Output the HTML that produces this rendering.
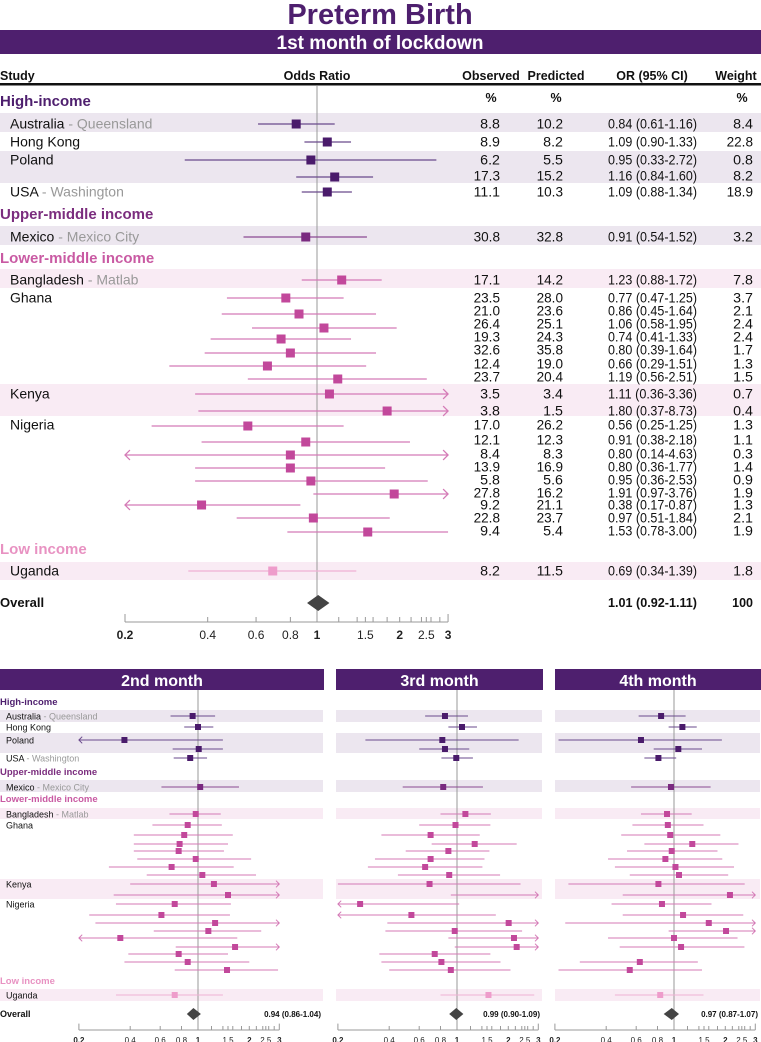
<!DOCTYPE html>
<html><head><meta charset="utf-8"><style>
body{margin:0;background:#fff}
svg{display:block;font-family:"Liberation Sans",Arial,sans-serif}
</style></head><body>
<svg id="chart" width="761" height="1042" viewBox="0 0 761 1042" xmlns="http://www.w3.org/2000/svg">
<text x="380" y="24" text-anchor="middle" font-size="29" font-weight="bold" fill="#4e1f6e">Preterm Birth</text>
<rect x="0" y="30" width="761" height="24" fill="#4e1f6e"/>
<text x="380" y="49" text-anchor="middle" font-size="19" font-weight="bold" fill="#fff">1st month of lockdown</text>
<g font-size="12.5" font-weight="bold" fill="#111">
<text x="0" y="80">Study</text>
<text x="317" y="80" text-anchor="middle">Odds Ratio</text>
<text x="491" y="80" text-anchor="middle">Observed</text>
<text x="556" y="80" text-anchor="middle">Predicted</text>
<text x="652" y="80" text-anchor="middle">OR (95% CI)</text>
<text x="736" y="80" text-anchor="middle">Weight</text>
<text x="491" y="102" text-anchor="middle">%</text>
<text x="556" y="102" text-anchor="middle">%</text>
<text x="742" y="102" text-anchor="middle">%</text>
</g>
<rect x="0" y="83" width="761" height="2.5" fill="#111"/>
<g id="bands"></g>
<g id="main"></g>
<g id="bottom"></g>
</svg>
<script>
// ---------- main (1st month) data ----------
const mainOR  = [0.84,1.09,0.95,1.16,1.09, 0.91, 1.23, 0.77,0.86,1.06,0.74,0.80,0.66,1.19, 1.11,1.80, 0.56,0.91,0.80,0.80,0.95,1.91,0.38,0.97,1.53, 0.69];
const mainLo  = [0.61,0.90,0.33,0.84,0.88, 0.54, 0.88, 0.47,0.45,0.58,0.41,0.39,0.29,0.56, 0.36,0.37, 0.25,0.38,0.14,0.36,0.36,0.97,0.17,0.51,0.78, 0.34];
const mainHi  = [1.16,1.33,2.72,1.60,1.34, 1.52, 1.72, 1.25,1.64,1.95,1.33,1.64,1.51,2.51, 3.36,8.73, 1.25,2.18,4.63,1.77,2.53,3.76,0.87,1.84,3.00, 1.39];
const mainObs = ["8.8","8.9","6.2","17.3","11.1","30.8","17.1","23.5","21.0","26.4","19.3","32.6","12.4","23.7","3.5","3.8","17.0","12.1","8.4","13.9","5.8","27.8","9.2","22.8","9.4","8.2"];
const mainPred= ["10.2","8.2","5.5","15.2","10.3","32.8","14.2","28.0","23.6","25.1","24.3","35.8","19.0","20.4","3.4","1.5","26.2","12.3","8.3","16.9","5.6","16.2","21.1","23.7","5.4","11.5"];
const mainWeight=["8.4","22.8","0.8","8.2","18.9","3.2","7.8","3.7","2.1","2.4","2.4","1.7","1.3","1.5","0.7","0.4","1.3","1.1","0.3","1.4","0.9","1.9","1.3","2.1","1.9","1.8"];
const mainOverall = [1.01,0.92,1.11];
const tickVals = [0.2,0.4,0.6,0.8,1,1.5,2,2.5,3];
const tickLabels = ["0.2","0.4","0.6","0.8","1","1.5","2","2.5","3"];
const minorTicks = [1.2,1.4,1.6,1.8,2.2,2.4,2.6,2.8];
// ---------- later months data ----------
const m2OR=[0.93,1.0,0.37,1.01,0.9,1.03,0.97, 0.87,0.83,0.78,0.77,0.97,0.70,1.06, 1.24,1.5, 0.73,0.61,1.26,1.15,0.35,1.65,0.77,0.87,1.48, 0.73];
const m2Lo=[0.69,0.83,0.15,0.71,0.72,0.61,0.68, 0.54,0.42,0.42,0.42,0.44,0.30,0.50, 0.40,0.32, 0.33,0.23,0.25,0.55,0.15,0.74,0.39,0.37,0.73, 0.33];
const m2Hi=[1.26,1.23,1.4,1.4,1.13,1.74,1.36, 1.38,1.6,1.5,1.42,2.05,1.62,2.19, 3.5,3.5, 1.56,1.54,3.5,2.35,1.7,3.5,1.5,2.0,2.95, 1.4];
const m3OR=[0.85,1.07,0.82,0.85,0.99,0.83,1.12, 0.98,0.70,1.27,0.89,0.70,0.65,0.90, 0.69,3.3, 0.27,0.54,2.01,0.97,2.16,2.24,0.74,0.81,0.92, 1.53];
const m3Lo=[0.65,0.89,0.29,0.60,0.81,0.48,0.80, 0.60,0.36,0.71,0.50,0.33,0.30,0.45, 0.2,0.92, 0.15,0.15,0.39,0.38,0.89,0.97,0.35,0.36,0.40, 0.80];
const m3Hi=[1.16,1.31,2.3,1.18,1.24,1.42,1.58, 1.57,1.36,2.24,1.55,1.45,1.41,1.79, 2.36,3.5, 1.03,1.69,3.5,2.41,3.5,3.5,1.57,1.80,2.06, 2.84];
const m4OR=[0.84,1.12,0.64,1.06,0.81,0.96,0.91, 0.92,0.95,1.28,0.97,0.89,1.02,1.07, 0.81,2.13, 0.85,1.13,1.60,2.02,1.0,1.10,null,0.63,0.55, 0.83];
const m4Lo=[0.62,0.93,0.21,0.76,0.67,0.56,0.64, 0.57,0.49,0.67,0.53,0.41,0.45,0.55, 0.24,0.50, 0.43,0.50,0.23,0.93,0.41,0.48,null,0.28,0.21, 0.45];
const m4Hi=[1.17,1.36,1.91,1.46,1.03,1.64,1.27, 1.49,1.87,2.39,1.80,1.92,2.25,2.08, 2.60,3.5, 1.66,2.55,3.5,3.5,2.36,2.59,null,1.38,1.46, 1.49];
const m2Overall=[0.94,0.86,1.04], m3Overall=[0.99,0.90,1.09], m4Overall=[0.97,0.87,1.07];
const overallLabels=["0.94 (0.86-1.04)","0.99 (0.90-1.09)","0.97 (0.87-1.07)"];

// ---------- layout ----------
const NS="http://www.w3.org/2000/svg";
function mk(tag,attrs,parent,txt){const e=document.createElementNS(NS,tag);for(const k in attrs)e.setAttribute(k,attrs[k]);if(txt!=null)e.textContent=txt;parent.appendChild(e);return e;}
const groupOf=i=> i<5?0:(i<6?1:(i<25?2:3));
const sqCol=["#4a1b6b","#7a2a80","#c2489b","#ee9ccb"];
const lnCol=["#6a4a8c","#8a4a92","#d47ab6","#f0b0d4"];
const hdCol=["#4e1f6e","#7b2d7e","#c95aa3","#e892c2"];
const bandCol=["#ece6ef","#ece6ef","#f9ebf4","#f9ebf4"];
const mainY=[124,142,160,177,192,237,280,298,314,328,339,353,366,379,394,411,426,442,455,468,481,494,505,518,532,571];
const rowTextY=[124,142,160,176,192,237,280,298,311,324,337,350,364,377,394,411,425,440,454,467,480,493,505,518,531,571];
const names=["Australia","Hong Kong","Poland","","USA","Mexico","Bangladesh","Ghana","","","","","","","Kenya","","Nigeria","","","","","","","","","Uganda"];
const subs=["Queensland","","","","Washington","Mexico City","Matlab","","","","","","","","","","","","","","","","","","",""];
const groupNames=["High-income","Upper-middle income","Lower-middle income","Low income"];
const mainGroupY=[106,219,263,554];
const mainBands=[[113,132],[151,183],[226,245],[269,288],[384,416],[562,580]];
const bandGroup=[0,0,1,2,2,3];

const bands=document.getElementById('bands');
mainBands.forEach((b,i)=>{const r=mk('rect',{x:0,y:b[0],width:761,height:b[1]-b[0],fill:bandCol[bandGroup[i]]},bands);

});

const M=document.getElementById('main');
const mx=v=>317+119.3*Math.log(v);
const ref=mk('line',{x1:317,y1:86,x2:317,y2:622,stroke:'#999','stroke-width':1},M);


groupNames.forEach((g,i)=>{const t=mk('text',{x:0,y:mainGroupY[i],'font-size':15,'font-weight':'bold',fill:hdCol[i]},M,g);

});

function drawCI(P,xf,y,or,lo,hi,col,lcol,sq,lw,minV,maxV,name){
  const L=Math.max(lo,minV),H=Math.min(hi,maxV);
  const ln=mk('line',{x1:xf(L),y1:y,x2:xf(H),y2:y,stroke:lcol,'stroke-width':lw},P);
  
  
  const a=sq*0.55;
  if(hi>maxV){const ar=mk('path',{d:`M${xf(maxV)-a} ${y-a}L${xf(maxV)} ${y}L${xf(maxV)-a} ${y+a}`,fill:'none',stroke:lcol,'stroke-width':lw},P);
    
    }
  if(lo<minV){const al=mk('path',{d:`M${xf(minV)+a} ${y-a}L${xf(minV)} ${y}L${xf(minV)+a} ${y+a}`,fill:'none',stroke:lcol,'stroke-width':lw},P);
    
    }
  if(or>=minV&&or<=maxV){const s=mk('rect',{x:xf(or)-sq/2,y:y-sq/2,width:sq,height:sq,fill:col},P);
    
    }
}
mainOR.forEach((v,i)=>{
  const g=groupOf(i),y=mainY[i];
  drawCI(M,mx,y,v,mainLo[i],mainHi[i],sqCol[g],lnCol[g],9,1.3,0.2,3,'study-'+i);
  const ty=rowTextY[i]+4.5;
  if(names[i]){const t=mk('text',{x:10,y:ty,'font-size':14,fill:'#111'},M,names[i]);
    
    
    if(subs[i]){mk('tspan',{fill:'#999'},t,' - '+subs[i]);}}
  const fs=13.5;
  const o=mk('text',{x:500,y:ty,'font-size':fs,'text-anchor':'end',fill:'#111',textLength:mainObs[i].length*6.6,lengthAdjust:'spacingAndGlyphs'},M,mainObs[i]);
  
  
  const p=mk('text',{x:563,y:ty,'font-size':fs,'text-anchor':'end',fill:'#111',textLength:mainPred[i].length*6.6,lengthAdjust:'spacingAndGlyphs'},M,mainPred[i]);
  
  
  const s=`${mainOR[i].toFixed(2)} (${mainLo[i].toFixed(2)}-${mainHi[i].toFixed(2)})`;
  const c=mk('text',{x:608,y:ty,'font-size':fs,fill:'#111',textLength:89,lengthAdjust:'spacingAndGlyphs'},M,s);
  
  
  const w=mk('text',{x:753,y:ty,'font-size':fs,'text-anchor':'end',fill:'#111',textLength:mainWeight[i].length*6.6,lengthAdjust:'spacingAndGlyphs'},M,mainWeight[i]);
  
  
});
{const [o,l,h]=mainOverall,y=603;
 const d=mk('path',{d:`M${mx(l)} ${y}L${mx(o)} ${y-8}L${mx(h)} ${y}L${mx(o)} ${y+8}Z`,fill:'#444'},M);
 
 
 const t=mk('text',{x:0,y:607,'font-size':13,'font-weight':'bold',fill:'#111'},M,'Overall');
 
 
 const v=mk('text',{x:608,y:607,'font-size':12.5,'font-weight':'bold',fill:'#111',textLength:89,lengthAdjust:'spacingAndGlyphs'},M,`${o.toFixed(2)} (${l.toFixed(2)}-${h.toFixed(2)})`);
 
 
 const w=mk('text',{x:753,y:607,'font-size':12.5,'font-weight':'bold','text-anchor':'end',fill:'#111'},M,'100');
 
 }
function drawAxis(P,xf,y,fs,tk,name){
  const ax=mk('line',{x1:xf(0.2),y1:y,x2:xf(3),y2:y,stroke:'#999','stroke-width':1},P);
  
  
  tickVals.forEach((v,i)=>{const big=(v===0.2||v===3);
    const t=mk('line',{x1:xf(v),y1:y,x2:xf(v),y2:y-(big?tk*1.6:tk),stroke:'#999'},P);
    
    
    const bold=(v===0.2||v===1||v===2||v===3);
    const l=mk('text',{x:xf(v),y:y+fs+5,'font-size':fs,'text-anchor':'middle','font-weight':bold?'bold':'normal',fill:'#222'},P,tickLabels[i]);
    
    });
  minorTicks.forEach(v=>{const t=mk('line',{x1:xf(v),y1:y,x2:xf(v),y2:y-tk,stroke:'#999'},P);
    
    });
}
drawAxis(M,mx,622,12,5,'main-x-axis');

// ---------- bottom panels ----------
const B=document.getElementById('bottom');
const botY=[716,727,740,749,758,787,814,825,835,844,851,859,867,875,884,895,904,915,923,931,938,947,954,962,970,995];
const botBands=[[710,722],[733,753],[780,792],[808,819],[879,899],[989,1001]];
const botGroupY=[705,775,802,984];
const panels=[
 {title:'2nd month',x0:0,x1:324,one:198,or:m2OR,lo:m2Lo,hi:m2Hi,ov:m2Overall},
 {title:'3rd month',x0:336,x1:543,one:457,or:m3OR,lo:m3Lo,hi:m3Hi,ov:m3Overall},
 {title:'4th month',x0:555,x1:761,one:674,or:m4OR,lo:m4Lo,hi:m4Hi,ov:m4Overall}];
panels.forEach((p,pi)=>{
  const P=mk('g',{},B);
  
  
  const xf=v=>p.one+74*Math.log(v);
  const hb=mk('rect',{x:p.x0,y:669,width:p.x1-p.x0,height:21,fill:'#4e1f6e'},P);
  
  
  const ht=mk('text',{x:(p.x0+p.x1)/2,y:686,'text-anchor':'middle','font-size':16,'font-weight':'bold',fill:'#fff'},P,p.title);
  
  
  botBands.forEach((b,i)=>{const r=mk('rect',{x:p.x0,y:b[0],width:p.x1-p.x0-1,height:b[1]-b[0],fill:bandCol[bandGroup[i]]},P);
    
    });
  const rl=mk('line',{x1:p.one,y1:690,x2:p.one,y2:1030,stroke:'#999'},P);
  
  
  if(pi===0){
    groupNames.forEach((g,i)=>{const t=mk('text',{x:0,y:botGroupY[i],'font-size':9.5,'font-weight':'bold',fill:hdCol[i]},P,g);
      
      });
    names.forEach((n,i)=>{if(!n)return;const t=mk('text',{x:6,y:botY[i]+3.5,'font-size':9,fill:'#111'},P,n);
      
      
      if(subs[i])mk('tspan',{fill:'#999'},t,' - '+subs[i]);});
    const ol=mk('text',{x:0,y:1017,'font-size':9,'font-weight':'bold',fill:'#111'},P,'Overall');
    
    
  }
  p.or.forEach((v,i)=>{if(v==null)return;const g=groupOf(i);
    drawCI(P,xf,botY[i],v,p.lo[i],p.hi[i],sqCol[g],lnCol[g],6,1,0.2,3,'panel'+(pi+2)+'-study-'+i);});
  const [o,l,h]=p.ov,y=1014;
  const d=mk('path',{d:`M${xf(l)} ${y}L${xf(o)} ${y-6}L${xf(h)} ${y}L${xf(o)} ${y+6}Z`,fill:'#444'},P);
  
  
  const ot=mk('text',{x:p.x1-3,y:1017,'font-size':8,'font-weight':'bold','text-anchor':'end',fill:'#111'},P,overallLabels[pi]);
  
  
  drawAxis(P,xf,1030,8,4,'panel-x-axis');
});
</script>
</body></html>
